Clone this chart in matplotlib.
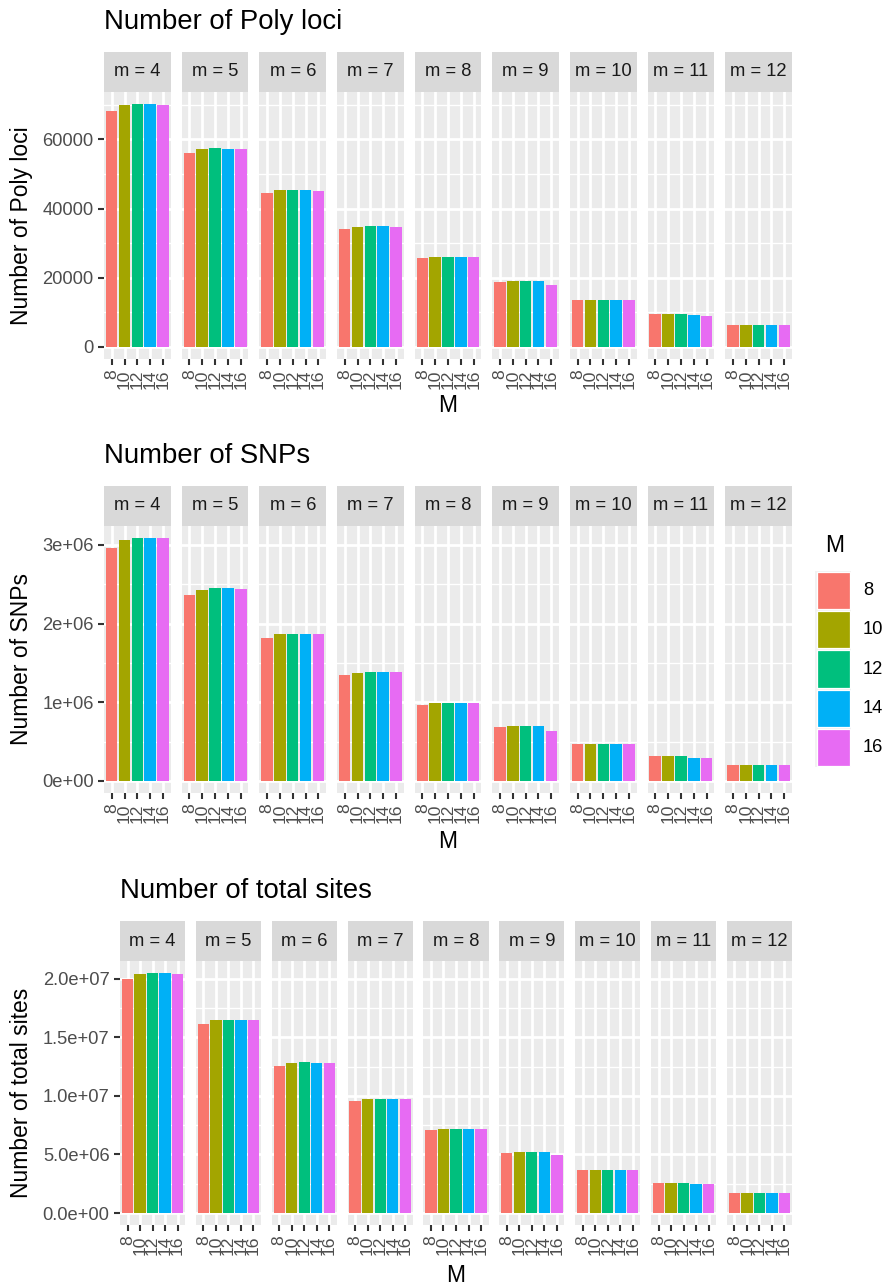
import numpy as np
import matplotlib
matplotlib.use("Agg")
import matplotlib.pyplot as plt
from matplotlib.patches import Rectangle

plt.rcParams['font.family'] = ['Liberation Sans', 'DejaVu Sans']

# data
M_values = [8, 10, 12, 14, 16]
m_values = [4, 5, 6, 7, 8, 9, 10, 11, 12]
colors = ['#F8766D', '#A3A500', '#00BF7D', '#00B0F6', '#E76BF3']

poly_loci = [
    [68200, 69900, 70200, 70200, 69900],
    [56070, 57200, 57500, 57200, 57200],
    [44500, 45370, 45370, 45370, 45080],
    [34100, 34680, 34970, 34970, 34680],
    [25720, 26010, 26010, 26010, 26010],
    [18790, 19070, 19070, 19070, 17920],
    [13580, 13580, 13580, 13580, 13580],
    [9540, 9540, 9540, 9250, 8960],
    [6360, 6360, 6360, 6360, 6360],
]
snps = [
    [2.958e6, 3.06e6, 3.085e6, 3.085e6, 3.085e6],
    [2.36e6, 2.424e6, 2.45e6, 2.45e6, 2.437e6],
    [1.814e6, 1.865e6, 1.865e6, 1.865e6, 1.865e6],
    [1.344e6, 1.369e6, 1.382e6, 1.382e6, 1.382e6],
    [0.962e6, 0.988e6, 0.988e6, 0.988e6, 0.988e6],
    [0.683e6, 0.695e6, 0.695e6, 0.695e6, 0.632e6],
    [0.466e6, 0.466e6, 0.466e6, 0.466e6, 0.466e6],
    [0.314e6, 0.314e6, 0.314e6, 0.289e6, 0.289e6],
    [0.200e6, 0.200e6, 0.200e6, 0.200e6, 0.200e6],
]
total_sites = [
    [1.997e7, 2.04e7, 2.048e7, 2.048e7, 2.04e7],
    [1.613e7, 1.648e7, 1.648e7, 1.648e7, 1.648e7],
    [1.256e7, 1.281e7, 1.29e7, 1.281e7, 1.281e7],
    [9.57e6, 9.74e6, 9.74e6, 9.74e6, 9.74e6],
    [7.10e6, 7.19e6, 7.19e6, 7.19e6, 7.19e6],
    [5.14e6, 5.23e6, 5.23e6, 5.23e6, 4.97e6],
    [3.69e6, 3.69e6, 3.69e6, 3.69e6, 3.69e6],
    [2.58e6, 2.58e6, 2.58e6, 2.50e6, 2.50e6],
    [1.73e6, 1.73e6, 1.73e6, 1.73e6, 1.73e6],
]

poly_ticks = [0, 20000, 40000, 60000]
poly_labels = ['0', '20000', '40000', '60000']
snp_ticks = [0, 1e6, 2e6, 3e6]
snp_labels = ['0e+00', '1e+06', '2e+06', '3e+06']
total_ticks = [0, 5e6, 1e7, 1.5e7, 2e7]
total_labels = ['0.0e+00', '5.0e+06', '1.0e+07', '1.5e+07', '2.0e+07']

W, H = 885, 1285
fig = plt.figure(figsize=(W / 150, H / 150), dpi=150)


def box(x0, y0, x1, y1):
    return fig.add_axes([x0 / W, 1 - y1 / H, (x1 - x0) / W, (y1 - y0) / H])


def facet_plot(values, ticks, labels, title, x_left, x_right, strip_top, panel_bottom):
    n = len(m_values)
    gap = 10.8
    pw = (x_right - x_left - gap * (n - 1)) / n
    strip_bottom = strip_top + 40
    ymax = max(max(v) for v in values)
    step = ticks[1] - ticks[0]
    minor = np.arange(step / 2, ymax * 1.05, step)
    xpos = np.arange(1, len(M_values) + 1)  # discrete x scale
    for i, m in enumerate(m_values):
        x0 = x_left + i * (pw + gap)
        ax = box(x0, strip_bottom, x0 + pw, panel_bottom)
        ax.set_facecolor('#EBEBEB')
        for s in ax.spines.values():
            s.set_visible(False)
        ax.set_axisbelow(True)
        ax.set_xlim(0.4, len(M_values) + 0.6)
        ax.set_ylim(-0.05 * ymax, 1.05 * ymax)
        ax.set_xticks(xpos)
        ax.set_yticks(ticks)
        ax.set_yticks(minor, minor=True)
        ax.grid(True, which='major', color='white', linewidth=1.3)
        ax.grid(True, which='minor', axis='y', color='white', linewidth=0.65)
        ax.bar(xpos, values[i], width=0.9, color=colors, zorder=3)
        ax.set_xticklabels([str(v) for v in M_values], rotation=90,
                           fontsize=8.4, color='#4D4D4D', va='top', ha='center')
        ax.tick_params(axis='x', which='major', length=3, width=1.0,
                       color='#333333', pad=2)
        ax.tick_params(which='minor', length=0)
        if i == 0:
            ax.set_yticklabels(labels, fontsize=8.8, color='#4D4D4D')
            ax.tick_params(axis='y', which='major', length=3, width=1.0,
                           color='#333333', pad=2)
        else:
            ax.set_yticklabels([])
            ax.tick_params(axis='y', which='major', length=0)
        sx = box(x0, strip_top, x0 + pw, strip_bottom)
        sx.set_facecolor('#D9D9D9')
        sx.set_xticks([])
        sx.set_yticks([])
        for s in sx.spines.values():
            s.set_visible(False)
        sx.text(0.5, 0.5, 'm = %d' % m, ha='center', va='center',
                fontsize=8.8, color='#1A1A1A', transform=sx.transAxes)
    # titles
    fig.text(x_left / W, 1 - (strip_top - 30) / H, title, fontsize=13.2,
             ha='left', va='center')
    fig.text(22 / W, 1 - ((strip_bottom + panel_bottom) / 2) / H, title,
             fontsize=11, rotation=90, ha='center', va='center')


facet_plot(poly_loci, poly_ticks, poly_labels, 'Number of Poly loci', 104, 792, 52, 359)
facet_plot(snps, snp_ticks, snp_labels, 'Number of SNPs', 104, 792, 486, 793)
facet_plot(total_sites, total_ticks, total_labels, 'Number of total sites', 120, 792, 921, 1225)

fig.text(448 / W, 1 - 405 / H, 'M', fontsize=11, ha='center', va='center')
fig.text(448 / W, 1 - 842 / H, 'M', fontsize=11, ha='center', va='center')
fig.text(456 / W, 1 - 1276 / H, 'M', fontsize=11, ha='center', va='center')

# legend
lg = box(814, 530, 885, 770)
lg.set_xlim(814, 885)
lg.set_ylim(770, 530)
lg.axis('off')
lg.text(835, 545, 'M', fontsize=11, ha='center', va='center')
key_h = 39.2
for k, (val, col) in enumerate(zip(M_values, colors)):
    top = 571 + k * key_h
    lg.add_patch(Rectangle((815, top), 36, key_h, facecolor='#F2F2F2',
                           edgecolor='none'))
    lg.add_patch(Rectangle((816.5, top + 1), 33, key_h - 2, facecolor=col,
                           edgecolor='white', linewidth=0.6))
    lg.text(863, top + key_h / 2, str(val), fontsize=8.8, ha='left',
            va='center')

fig.savefig('out.png', dpi=150)
